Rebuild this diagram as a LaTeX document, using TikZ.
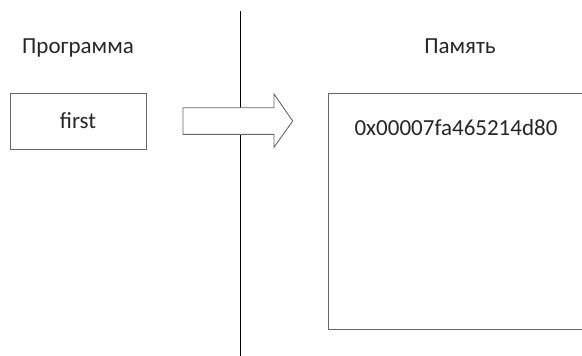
\documentclass[tikz,border=0pt]{standalone}
\usepackage{fontspec}
\setmainfont{Carlito}
\usepackage{xcolor}
\usetikzlibrary{positioning}

\colorlet{edgegray}{black!60}

\begin{document}
\begin{tikzpicture}[x=1pt, y=-1pt, font=\fontsize{23}{27}\selectfont,
    box/.style={draw=edgegray, line width=0.9pt},
    title/.style={anchor=base, text=black!85}]
\useasboundingbox (0,0) rectangle (582,356);
\clip (0,0) rectangle (582,356);

% headings
\node[title] (prog) at (78,53) {Программа};
\node[title] (mem) at (460,53) {Память};

% divider between the two sides
\draw[line width=1pt] (240,11) -- (240,356);

% variable on the left, memory on the right
\node[box, minimum width=136pt, minimum height=56pt, text=black!85] (first) at (78,121) {first};
\node[box, anchor=north west, minimum width=262pt, minimum height=236pt] (memory) at (328,93) {};
\node[title] (addr) at (456,135) {0x00007fa465214d80};

% block arrow from first to memory
\draw[box, fill=white] (183,107.7) -- (274,107.7) -- (274,94) -- (292.7,121)
  -- (274,147.3) -- (274,134.3) -- (183,134.3) -- cycle;
\end{tikzpicture}
\end{document}
